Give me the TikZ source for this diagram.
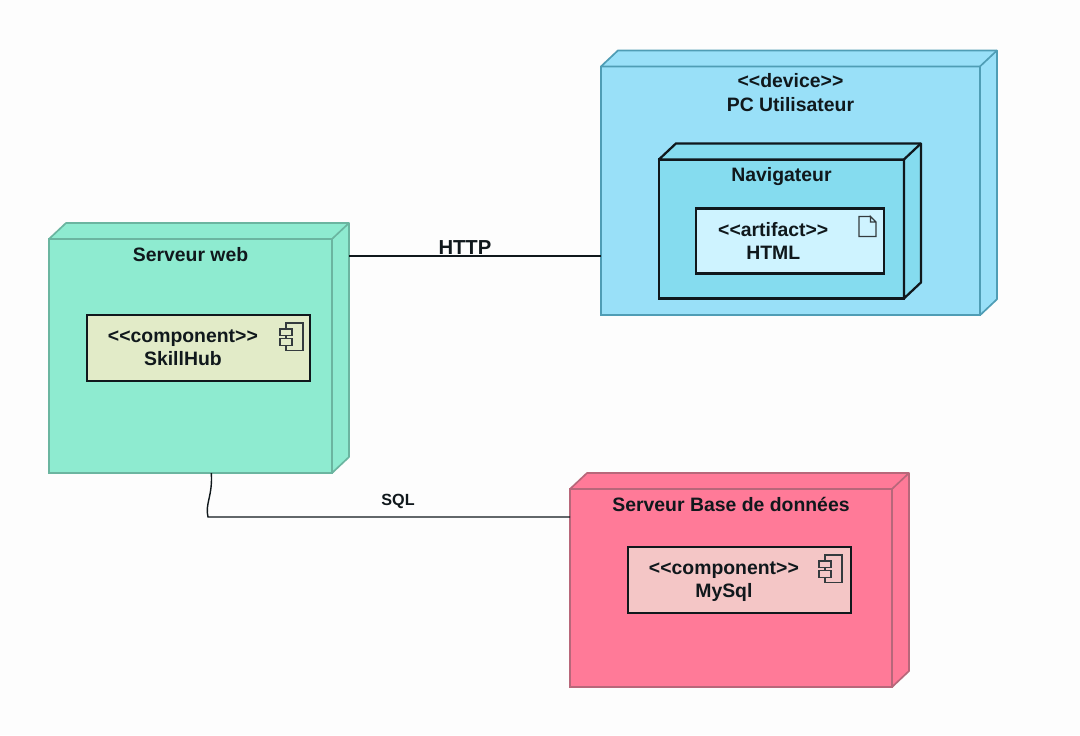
\documentclass[tikz,border=0pt]{standalone}
\usepackage{fontspec}
\setmainfont{Liberation Sans}
\usepackage{xcolor}
\usepackage{tikz}
\usetikzlibrary{positioning}
\definecolor{pagefill}{HTML}{FDFDFD}
\definecolor{pcfill}{HTML}{99E0F8}
\definecolor{pcline}{HTML}{4F9DB5}
\definecolor{navfill}{HTML}{85DCEF}
\definecolor{htmlfill}{HTML}{CEF3FF}
\definecolor{webfill}{HTML}{8EEBD0}
\definecolor{webline}{HTML}{6BB5A0}
\definecolor{skillfill}{HTML}{E2EBC8}
\definecolor{dbfill}{HTML}{FF7A98}
\definecolor{dbline}{HTML}{B8677A}
\definecolor{sqlfill}{HTML}{F4C6C6}
\definecolor{inkline}{HTML}{10181C}
\newcommand{\nodedepth}[4]{%
  \draw[fill=#2, draw=#3, line width=#4, line join=round]
    (#1.north west) -- ++(0.425,0.4) -- ([shift={(0.425,0.4)}]#1.north east)
    -- ([shift={(0.425,0.4)}]#1.south east) -- (#1.south east) -- (#1.north east) -- cycle;
  \draw[draw=#3, line width=#4] (#1.north east) -- ++(0.425,0.4);
}
\newcommand{\componenticon}[3]{%
  \draw[iconline] ([shift={#2}]#1.north east) coordinate (#1icon) rectangle ++(-0.425,-0.69);
  \draw[iconline, fill=#3] ([shift={(-0.575,-0.15)}]#1icon) rectangle ++(0.3,-0.17);
  \draw[iconline, fill=#3] ([shift={(-0.575,-0.38)}]#1icon) rectangle ++(0.3,-0.18);
}

\begin{document}
\begin{tikzpicture}[
  devicebox/.style={draw, outer sep=0pt, line width=1.2pt},
  innerbox/.style={draw=inkline, outer sep=0pt, line width=1.6pt},
  nodetitle/.style={font=\fontsize{13.8}{16.6}\selectfont\bfseries, align=center, text=inkline, inner sep=0pt},
  iconline/.style={draw=inkline!85, line width=0.9pt},
  link/.style={draw=inkline, line width=1pt}
]
  \path[use as bounding box, fill=pagefill] (0,0) rectangle (27,-18.375);

  % PC
  \node[devicebox, draw=pcline, fill=pcfill, minimum width=9.475cm, minimum height=6.22cm] (pc) at (19.7625,-4.77) {};
  \nodedepth{pc}{pcfill}{pcline}{1.2pt}
  \node[nodetitle, below=0.175cm of pc.north] (pctitle) {<{}<device>{}>\\PC Utilisateur};
  \node[innerbox, fill=navfill, minimum width=6.125cm, minimum height=3.475cm, below right=2.325cm and 1.45cm of pc.north west] (nav) {};
  \nodedepth{nav}{navfill}{inkline}{1.6pt}
  \node[nodetitle, below=0.2cm of nav.north] (navtitle) {Navigateur};
  \node[innerbox, fill=htmlfill, minimum width=4.7cm, minimum height=1.625cm, below right=1.225cm and 0.925cm of nav.north west] (html) {};
  \node[nodetitle] (htmltext) at ([xshift=-0.42cm]html.center) {<{}<artifact>{}>\\HTML};
  \draw[iconline] ([shift={(-0.2,-0.2)}]html.north east) coordinate (docne) ++(-0.14,0) -- ++(-0.285,0) -- ++(0,-0.5) -- ++(0.425,0) -- ++(0,0.36) -- ++(-0.14,0.14) -- ++(0,-0.14) -- ++(0.14,0);

  % Serveur web
  \node[devicebox, draw=webline, fill=webfill, minimum width=7.075cm, minimum height=5.85cm] (web) at (4.7625,-8.9) {};
  \nodedepth{web}{webfill}{webline}{1.2pt}
  \node[nodetitle, below=0.2cm of web.north] (webtitle) {Serveur web};
  \node[innerbox, fill=skillfill, minimum width=5.575cm, minimum height=1.65cm, below right=1.9cm and 0.95cm of web.north west] (skill) {};
  \node[nodetitle] (skilltext) at ([xshift=-0.39cm]skill.center) {<{}<component>{}>\\SkillHub};
  \componenticon{skill}{(-0.175,-0.2)}{skillfill}

  % Serveur Base de donnees
  \node[devicebox, draw=dbline, fill=dbfill, minimum width=8.05cm, minimum height=4.95cm] (db) at (18.275,-14.7) {};
  \nodedepth{db}{dbfill}{dbline}{1.2pt}
  \node[nodetitle, below=0.2cm of db.north] (dbtitle) {Serveur Base de données};
  \node[innerbox, fill=sqlfill, minimum width=5.575cm, minimum height=1.65cm, below right=1.45cm and 1.45cm of db.north west] (sql) {};
  \node[nodetitle] (sqltext) at ([shift={(-0.39cm,-0.05cm)}]sql.center) {<{}<component>{}>\\MySql};
  \componenticon{sql}{(-0.225,-0.2)}{sqlfill}

  \coordinate (httpstart) at ([shift={(0.425,-0.425)}]web.north east);
  \coordinate (sqlbend) at (5.2,-12.925);
  \draw[link] (httpstart) -- node[pos=0.46, above=0.02cm, font=\fontsize{14.4}{16}\selectfont\bfseries, text=inkline, inner sep=0pt] (httplabel) {HTTP} (httpstart -| pc.west);
  \draw[link] ([xshift=0.52cm]web.south) .. controls (5.32,-12.4) and (5.12,-12.6) .. (sqlbend)
    -- node[pos=0.525, above=0.18cm, font=\fontsize{11.5}{14}\selectfont\bfseries, text=inkline, inner sep=0pt] (sqllabel) {SQL} (sqlbend -| db.west);
\end{tikzpicture}
\end{document}
